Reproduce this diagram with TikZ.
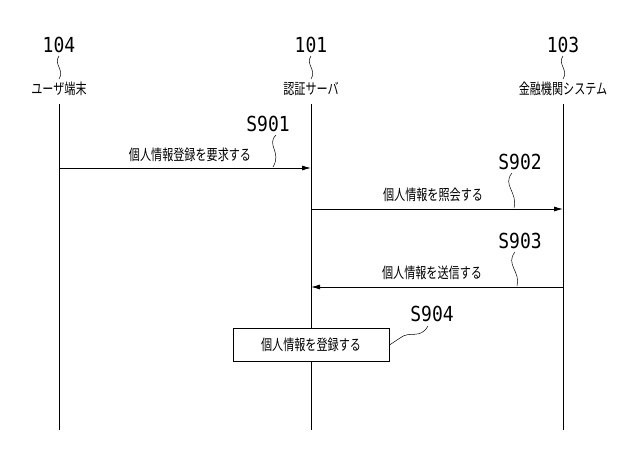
\documentclass[tikz,border=0pt]{standalone}
\usepackage{fontspec}
\newfontfamily\jp{Noto Sans CJK JP}
\newfontfamily\num{DejaVu Sans Mono}
\begin{document}
\begin{tikzpicture}[x=1pt,y=-1pt,
  jt/.style={font=\jp\fontsize{15}{15}\selectfont, xscale=0.74, inner sep=0pt},
  nt/.style={font=\num\fontsize{18}{18}\selectfont, yscale=1.15, inner sep=0pt},
  life/.style={line width=0.8pt},
  msg/.style={line width=0.8pt,-{Latex[length=9pt,width=5pt]}},
  sq/.style={line width=0.5pt}]
\usetikzlibrary{arrows.meta}
\useasboundingbox (0,0) rectangle (640,459);
% headers
\node[nt] (n104) at (59,45) {104};
\node[nt] (n101) at (311,45) {101};
\node[nt] (n103) at (563,45) {103};
\node[jt] (a) at (59,89) {ユーザ端末};
\node[jt] (b) at (311,89) {認証サーバ};
\node[jt] (c) at (563,89) {金融機関システム};
\foreach \n/\x in {n104/59,n101/311,n103/563}
  \draw[sq] (\x,56) .. controls (\x-6,64) and (\x+6,70) .. (\x,79);
\coordinate (ae) at (59,430); \coordinate (be) at (311,430); \coordinate (ce) at (563,430);
\draw[life] (a.south |- 0,104) -- (ae);
\draw[life] (b.south |- 0,104) -- (be);
\draw[life] (c.south |- 0,104) -- (ce);
% S901
\coordinate (m1a) at (59,168); \coordinate (m1b) at (311,168);
\draw[msg] (m1a) -- (m1b);
\node[jt] (t1) at (190,155) {個人情報登録を要求する};
\node[nt] (s1) at (268,124) {S901};
\draw[sq] (276,135) .. controls (266,145) and (282,152) .. (273,167);
% S902
\coordinate (m2a) at (311,209); \coordinate (m2b) at (563,209);
\draw[msg] (m2a) -- (m2b);
\node[jt] (t2) at (433,195) {個人情報を照会する};
\node[nt] (s2) at (520,162) {S902};
\draw[sq] (512,173) .. controls (502,185) and (518,192) .. (514,208);
% S903
\coordinate (m3a) at (563,287); \coordinate (m3b) at (311,287);
\draw[msg] (m3a) -- (m3b);
\node[jt] (t3) at (432,273) {個人情報を送信する};
\node[nt] (s3) at (520,241) {S903};
\draw[sq] (515,252) .. controls (505,264) and (521,272) .. (517,286);
% S904
\node[draw,line width=1pt,fill=white,minimum width=156pt,minimum height=33pt,inner sep=0pt] (box) at (311,345) {};
\node[jt] (t4) at (box.center) {個人情報を登録する};
\node[nt] (s4) at (432,314) {S904};
\draw[sq] (428,326) .. controls (420,340) and (410,330) .. (400,338) .. controls (395,342) .. (box.east);
\end{tikzpicture}
\end{document}
